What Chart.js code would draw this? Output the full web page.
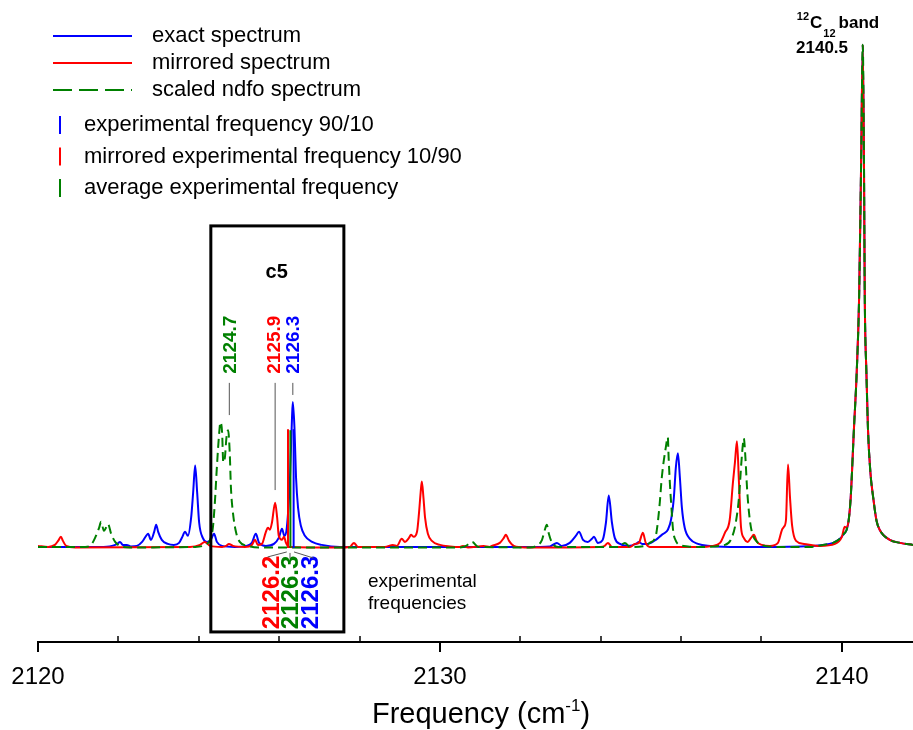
<!DOCTYPE html>
<html>
<head>
<meta charset="utf-8">
<script src="https://cdn.jsdelivr.net/npm/chart.js@4.4.1/dist/chart.umd.min.js"></script>
<style>
  html, body { margin: 0; padding: 0; background: #fff; }
  #wrap { width: 913px; height: 730px; }
</style>
</head>
<body>
<div id="wrap"><canvas id="spectrum"></canvas></div>
<script>
// values: frequency (cm-1) and relative intensity (%)
const exactFreq = [2120.00, 2121.54, 2121.84, 2121.97, 2122.04, 2122.11, 2122.21, 2122.31, 2122.46, 2122.59,
  2122.69, 2122.74, 2122.81, 2122.89, 2122.94, 2122.99, 2123.08, 2123.23, 2123.38, 2123.51,
  2123.58, 2123.66, 2123.73, 2123.81, 2123.86, 2123.91, 2123.96, 2124.01, 2124.10, 2124.20,
  2124.30, 2124.38, 2124.45, 2124.58, 2124.90, 2125.17, 2125.32, 2125.42, 2125.50, 2125.67,
  2125.87, 2125.99, 2126.07, 2126.13, 2126.19, 2126.27, 2126.32, 2126.34, 2126.38, 2126.42,
  2126.47, 2126.54, 2126.64, 2126.82, 2127.06, 2127.51, 2132.49, 2132.74, 2132.91, 2133.03,
  2133.23, 2133.38, 2133.46, 2133.56, 2133.68, 2133.78, 2133.83, 2133.93, 2134.05, 2134.13,
  2134.20, 2134.28, 2134.35, 2134.48, 2134.68, 2134.88, 2134.95, 2135.03, 2135.17, 2135.37,
  2135.52, 2135.60, 2135.67, 2135.75, 2135.82, 2135.87, 2135.92, 2135.97, 2136.02, 2136.09,
  2136.22, 2136.42, 2136.72, 2137.46, 2138.96, 2139.53, 2139.78, 2139.95, 2140.05, 2140.12,
  2140.17, 2140.22, 2140.30, 2140.37, 2140.43, 2140.48, 2140.52, 2140.55, 2140.57, 2140.61,
  2140.65, 2140.71, 2140.78, 2140.86, 2140.94, 2141.19, 2141.45, 2141.77];
const exactInt = [0.2, 0.2, 0.4, 0.8, 1.2, 0.6, 0.6, 0.3, 0.4, 1.2,
  2.4, 2.8, 1.6, 3.2, 4.6, 3.2, 1.6, 0.8, 0.6, 1.0,
  2.0, 3.2, 2.4, 6.0, 11.0, 16.4, 11.0, 5.0, 2.0, 1.2,
  1.6, 2.8, 1.2, 0.4, 0.2, 0.4, 1.0, 2.8, 1.0, 0.4,
  0.8, 2.0, 3.8, 2.4, 4.0, 14.0, 26.0, 29.0, 24.0, 14.0,
  8.0, 4.4, 2.4, 1.2, 0.6, 0.2, 0.2, 0.3, 1.0, 0.4,
  1.0, 2.4, 3.2, 1.6, 1.2, 1.8, 2.2, 1.0, 1.6, 5.0,
  10.4, 5.0, 2.0, 0.8, 0.4, 0.8, 1.2, 0.8, 0.8, 1.6,
  2.6, 3.0, 3.6, 5.6, 10.0, 16.0, 18.8, 14.0, 8.0, 4.0,
  1.8, 0.8, 0.4, 0.2, 0.3, 0.6, 1.0, 1.8, 2.8, 3.6,
  5.5, 10.0, 23.6, 35.0, 50.0, 77.0, 100.0, 77.0, 50.0, 35.0,
  23.6, 15.0, 10.0, 5.5, 3.6, 1.6, 1.0, 0.6];

const mirroredFreq = [2120.00, 2120.25, 2120.42, 2120.50, 2120.57, 2120.62, 2120.70, 2120.92, 2123.78, 2124.03,
  2124.15, 2124.28, 2124.58, 2124.68, 2124.75, 2124.85, 2125.15, 2125.32, 2125.40, 2125.47,
  2125.57, 2125.67, 2125.72, 2125.77, 2125.82, 2125.90, 2125.95, 2125.99, 2126.07, 2126.12,
  2126.17, 2126.24, 2127.51, 2127.76, 2127.86, 2127.96, 2128.63, 2128.83, 2128.93, 2129.05,
  2129.13, 2129.23, 2129.28, 2129.35, 2129.43, 2129.48, 2129.52, 2129.55, 2129.59, 2129.63,
  2129.70, 2129.80, 2130.00, 2130.25, 2130.50, 2130.57, 2130.70, 2131.09, 2131.24, 2131.29,
  2131.49, 2131.59, 2131.64, 2131.72, 2131.84, 2132.11, 2133.98, 2134.10, 2134.18, 2134.28,
  2134.73, 2134.85, 2134.95, 2135.05, 2135.12, 2135.22, 2136.47, 2136.77, 2136.97, 2137.09,
  2137.21, 2137.29, 2137.34, 2137.39, 2137.44, 2137.49, 2137.56, 2137.66, 2137.74, 2137.81,
  2137.89, 2138.01, 2138.21, 2138.41, 2138.51, 2138.56, 2138.61, 2138.66, 2138.71, 2138.76,
  2138.86, 2139.06, 2139.45, 2139.83, 2140.00, 2140.07, 2140.11, 2140.17, 2140.22, 2140.30,
  2140.37, 2140.43, 2140.48, 2140.52, 2140.55, 2140.57, 2140.61, 2140.65, 2140.71, 2140.78,
  2140.86, 2140.94, 2141.19, 2141.45, 2141.77];
const mirroredInt = [0.4, 0.2, 0.6, 1.4, 2.2, 1.4, 0.4, 0.1, 0.2, 0.6,
  1.2, 0.4, 0.2, 0.4, 0.8, 0.4, 0.2, 0.6, 1.6, 0.6,
  0.8, 3.2, 4.0, 3.6, 5.0, 9.0, 6.0, 2.4, 1.6, 2.2,
  1.0, 0.2, 0.1, 0.2, 1.0, 0.2, 0.2, 0.6, 0.4, 1.8,
  1.2, 2.0, 2.6, 2.2, 3.2, 7.0, 11.0, 13.2, 10.0, 6.0,
  2.8, 1.4, 0.6, 0.3, 0.2, 0.4, 0.1, 0.4, 0.2, 0.4,
  1.0, 2.0, 2.6, 1.4, 0.4, 0.1, 0.2, 0.4, 1.0, 0.2,
  0.2, 0.8, 1.0, 3.0, 1.0, 0.2, 0.2, 0.4, 1.0, 3.0,
  5.6, 13.0, 17.0, 21.2, 13.0, 4.2, 2.0, 1.2, 2.0, 2.6,
  1.2, 0.6, 0.4, 1.0, 3.6, 4.2, 5.6, 16.6, 10.0, 4.6,
  1.4, 0.8, 0.4, 0.8, 2.2, 4.2, 4.0, 5.5, 10.0, 23.6,
  35.0, 50.0, 77.0, 100.0, 77.0, 50.0, 35.0, 23.6, 15.0, 10.0,
  5.5, 3.6, 1.6, 1.0, 0.6];

const ndfoFreq = [2120.00, 2121.17, 2121.32, 2121.42, 2121.52, 2121.57, 2121.64, 2121.69, 2121.74, 2121.82,
  2121.92, 2122.04, 2122.29, 2123.91, 2124.15, 2124.28, 2124.35, 2124.40, 2124.45, 2124.50,
  2124.54, 2124.58, 2124.61, 2124.65, 2124.69, 2124.73, 2124.77, 2124.80, 2124.85, 2124.93,
  2125.02, 2125.22, 2125.52, 2130.50, 2130.65, 2130.80, 2130.95, 2132.24, 2132.44, 2132.54,
  2132.61, 2132.66, 2132.71, 2132.79, 2132.94, 2134.43, 2134.60, 2134.73, 2135.10, 2135.22,
  2135.37, 2135.42, 2135.47, 2135.52, 2135.62, 2135.67, 2135.69, 2135.72, 2135.76, 2135.80,
  2135.87, 2135.97, 2136.17, 2136.47, 2137.09, 2137.26, 2137.36, 2137.44, 2137.50, 2137.54,
  2137.56, 2137.60, 2137.64, 2137.69, 2137.76, 2137.89, 2138.09, 2138.46, 2139.21, 2139.53,
  2139.78, 2139.95, 2140.05, 2140.12, 2140.17, 2140.22, 2140.30, 2140.37, 2140.43, 2140.48,
  2140.52, 2140.55, 2140.57, 2140.61, 2140.65, 2140.71, 2140.78, 2140.86, 2140.94, 2141.19,
  2141.45, 2141.77];
const ndfoInt = [0.2, 0.2, 0.6, 2.0, 4.0, 5.2, 3.4, 4.0, 4.8, 2.8,
  1.2, 0.4, 0.1, 0.2, 0.6, 1.6, 4.0, 9.0, 16.0, 22.0,
  25.0, 23.0, 17.0, 18.0, 22.0, 23.4, 19.0, 12.0, 7.0, 3.0,
  1.2, 0.4, 0.1, 0.1, 0.4, 1.2, 0.2, 0.1, 0.6, 1.6,
  3.6, 4.6, 2.8, 1.0, 0.2, 0.2, 1.0, 0.2, 0.4, 1.0,
  2.4, 5.0, 9.0, 14.0, 20.0, 22.0, 18.0, 13.0, 8.0, 3.6,
  1.4, 0.6, 0.3, 0.2, 0.6, 2.0, 5.0, 10.0, 17.0, 20.8,
  21.8, 18.0, 12.0, 7.0, 3.2, 1.2, 0.4, 0.2, 0.2, 0.6,
  1.0, 1.8, 2.8, 3.6, 5.5, 10.0, 23.6, 35.0, 50.0, 77.0,
  100.0, 77.0, 50.0, 35.0, 23.6, 15.0, 10.0, 5.5, 3.6, 1.6,
  1.0, 0.6];

// experimental frequencies (sticks): 90/10, mirrored 10/90, average
const stickFreq = [2126.36, 2126.22, 2126.28];
const stickTop = [23.6, 23.6, 23.4];

const majorTicks = [2120, 2130, 2140];
const minorTicks = [2122, 2124, 2126, 2128, 2132, 2134, 2136, 2138];

const BLUE = '#0000ff', RED = '#ff0000', GREEN = '#008000';
const SANS = "'Liberation Sans', Arial, sans-serif";

const toPoints = (xs, ys) => xs.map((x, i) => ({ x: x, y: ys[i] }));
const stick = i => [{ x: stickFreq[i], y: 0 }, { x: stickFreq[i], y: stickTop[i] }];

function curve(label, color, xs, ys, dash) {
    return {
        label: label,
        data: toPoints(xs, ys),
        showLine: true,
        borderColor: color,
        borderWidth: 2,
        borderDash: dash || [],
        pointRadius: 0,
        cubicInterpolationMode: 'monotone',
    };
}
function stickSet(label, color, i) {
    return {
        label: label,
        data: stick(i),
        showLine: true,
        borderColor: color,
        borderWidth: 2,
        pointRadius: 0,
    };
}

// first dataset ends up on top
const datasets = [
    stickSet('mirrored experimental frequency 10/90', RED, 1),
    stickSet('average experimental frequency', GREEN, 2),
    stickSet('experimental frequency 90/10', BLUE, 0),
    curve('scaled ndfo spectrum', GREEN, ndfoFreq, ndfoInt, [9, 5]),
    curve('mirrored spectrum', RED, mirroredFreq, mirroredInt),
    curve('exact spectrum', BLUE, exactFreq, exactInt),
];

// legend drawn by hand, the layout of the original does not fit Chart.js' legend
const legendPlugin = {
    id: 'handLegend',
    afterDraw(chart) {
        const ctx = chart.ctx;
        const find = l => chart.data.datasets.find(d => d.label === l);
        ctx.save();
        ctx.font = '22px ' + SANS;
        ctx.fillStyle = '#000';
        ctx.textBaseline = 'middle';
        ['exact spectrum', 'mirrored spectrum', 'scaled ndfo spectrum'].forEach((l, i) => {
            const ds = find(l);
            const y = 36 + i * 27;
            ctx.strokeStyle = ds.borderColor;
            ctx.lineWidth = 2;
            ctx.setLineDash(ds.borderDash.length ? [19, 7] : []);
            ctx.beginPath();
            ctx.moveTo(53, y);
            ctx.lineTo(132, y);
            ctx.stroke();
            ctx.setLineDash([]);
            ctx.fillText(l, 152, y);
        });
        ['experimental frequency 90/10', 'mirrored experimental frequency 10/90', 'average experimental frequency'].forEach((l, i) => {
            const ds = find(l);
            const y = 125 + i * 31.5;
            ctx.strokeStyle = ds.borderColor;
            ctx.lineWidth = 2;
            ctx.beginPath();
            ctx.moveTo(60, y - 9);
            ctx.lineTo(60, y + 9);
            ctx.stroke();
            ctx.fillText(l, 84, y);
        });
        ctx.restore();
    }
};

const notesPlugin = {
    id: 'notes',
    afterDatasetsDraw(chart) {
        const ctx = chart.ctx;
        const xs = chart.scales.x, ys = chart.scales.y;
        const px = v => xs.getPixelForValue(v), py = v => ys.getPixelForValue(v);
        ctx.save();

        // c5 box
        ctx.strokeStyle = '#000';
        ctx.lineWidth = 3;
        ctx.strokeRect(px(2124.30), py(64.0), px(2127.61) - px(2124.30), py(-16.7) - py(64.0));
        ctx.fillStyle = '#000';
        ctx.font = 'bold 20px ' + SANS;
        ctx.textAlign = 'center';
        ctx.textBaseline = 'middle';
        ctx.fillText('c5', px(2125.94), py(54.7));

        // rotated peak labels
        const rotText = (t, x, y, color, font) => {
            ctx.save();
            ctx.translate(x, y);
            ctx.rotate(-Math.PI / 2);
            ctx.font = font;
            ctx.fillStyle = color;
            ctx.textAlign = 'center';
            ctx.textBaseline = 'middle';
            ctx.fillText(t, 0, 1);
            ctx.restore();
        };
        const topFont = 'bold 19px ' + SANS;
        rotText('2124.7', px(2124.76), py(40.4), GREEN, topFont);
        rotText('2125.9', px(2125.86), py(40.4), RED, topFont);
        rotText('2126.3', px(2126.35), py(40.4), BLUE, topFont);
        const botFont = 'bold 24px ' + SANS;
        rotText('2126.2', px(2125.80), py(-8.85), RED, botFont);
        rotText('2126.3', px(2126.27), py(-8.85), GREEN, botFont);
        rotText('2126.3', px(2126.77), py(-8.85), BLUE, botFont);

        // leader lines
        ctx.strokeStyle = '#555';
        ctx.lineWidth = 1;
        const seg = (x1, y1, x2, y2) => {
            ctx.beginPath();
            ctx.moveTo(px(x1), py(y1));
            ctx.lineTo(px(x2), py(y2));
            ctx.stroke();
        };
        seg(2124.76, 32.8, 2124.76, 26.4);
        seg(2125.90, 32.8, 2125.90, 11.5);
        seg(2126.34, 32.8, 2126.34, 30.4);
        seg(2126.19, -0.8, 2125.71, -1.8);
        seg(2126.27, -1.0, 2126.27, -2.1);
        seg(2126.37, -0.8, 2126.85, -2.0);

        ctx.fillStyle = '#000';
        ctx.font = '19px ' + SANS;
        ctx.textAlign = 'left';
        ctx.textBaseline = 'middle';
        ctx.fillText('experimental', px(2128.21), py(-6.8));
        ctx.fillText('frequencies', px(2128.21), py(-11.1));

        // 12C12 band label
        ctx.textBaseline = 'alphabetic';
        let x = px(2138.88);
        const base = py(103.4);
        ctx.font = 'bold 11px ' + SANS;
        ctx.fillText('12', x, base - 8);
        x += ctx.measureText('12').width + 1;
        ctx.font = 'bold 17px ' + SANS;
        ctx.fillText('C', x, base);
        x += ctx.measureText('C').width + 1;
        ctx.font = 'bold 11px ' + SANS;
        ctx.fillText('12', x, base + 9);
        x += ctx.measureText('12').width + 3;
        ctx.font = 'bold 17px ' + SANS;
        ctx.fillText('band', x, base);
        ctx.fillText('2140.5', px(2138.86), py(98.4));
        ctx.restore();
    }
};

// tick marks (major outward, minor inward) and axis title
const axisPlugin = {
    id: 'axisDeco',
    afterDraw(chart) {
        const ctx = chart.ctx;
        const xs = chart.scales.x;
        const y0 = xs.top;
        ctx.save();
        ctx.strokeStyle = '#000';
        ctx.lineWidth = 2;
        majorTicks.forEach(v => {
            const x = Math.round(xs.getPixelForValue(v));
            ctx.beginPath();
            ctx.moveTo(x, y0);
            ctx.lineTo(x, y0 + 10);
            ctx.stroke();
        });
        ctx.lineWidth = 1.5;
        minorTicks.forEach(v => {
            const x = Math.round(xs.getPixelForValue(v));
            ctx.beginPath();
            ctx.moveTo(x, y0);
            ctx.lineTo(x, y0 - 6);
            ctx.stroke();
        });

        ctx.fillStyle = '#000';
        ctx.textBaseline = 'alphabetic';
        const big = '29px ' + SANS, small = '17px ' + SANS;
        ctx.font = big;
        const w1 = ctx.measureText('Frequency (cm').width;
        const w3 = ctx.measureText(')').width;
        ctx.font = small;
        const w2 = ctx.measureText('-1').width;
        let x = 481 - (w1 + w2 + w3) / 2;
        const base = 723;
        ctx.font = big;
        ctx.fillText('Frequency (cm', x, base);
        x += w1;
        ctx.font = small;
        ctx.fillText('-1', x, base - 12);
        x += w2;
        ctx.font = big;
        ctx.fillText(')', x, base);
        ctx.restore();
    }
};

const ctx = document.getElementById('spectrum').getContext('2d');
new Chart(ctx, {
    type: 'scatter',
    data: { datasets: datasets },
    options: {
        responsive: true,
        maintainAspectRatio: false,
        animation: false,
        devicePixelRatio: 1,
        layout: { padding: { left: 38, right: 0, top: 0, bottom: 0 } },
        plugins: {
            legend: { display: false },
            tooltip: { enabled: false },
        },
        scales: {
            x: {
                type: 'linear',
                min: 2120,
                max: 2141.77,
                afterBuildTicks: scale => { scale.ticks = majorTicks.map(v => ({ value: v })); },
                afterFit: scale => {
                    scale.height = 88;
                    scale.paddingLeft = 0;
                    scale.paddingRight = 0;
                },
                grid: { display: false, drawTicks: false },
                border: { display: true, color: '#000', width: 2 },
                ticks: {
                    color: '#000',
                    padding: 21,
                    maxRotation: 0,
                    autoSkip: false,
                    font: { family: SANS, size: 24 },
                    callback: v => String(v),
                },
            },
            y: {
                display: false,
                min: -18.7,
                max: 108.9,
            },
        },
    },
    plugins: [legendPlugin, notesPlugin, axisPlugin],
});
</script>
</body>
</html>
